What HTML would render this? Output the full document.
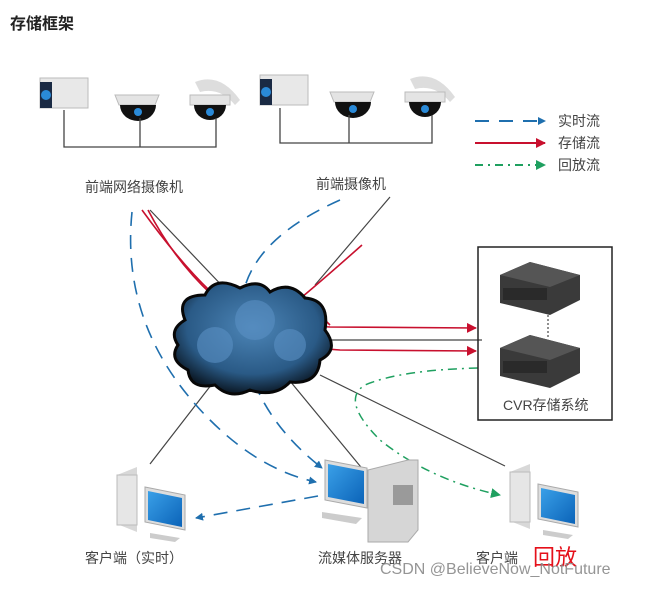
<!DOCTYPE html>
<html><head><meta charset="utf-8"><style>
body{margin:0;background:#fff;width:660px;height:586px;overflow:hidden;font-family:"Liberation Sans","Noto Sans CJK SC",sans-serif}
</style></head><body>
<svg width="660" height="586" viewBox="0 0 660 586" xmlns="http://www.w3.org/2000/svg">
<defs>
<marker id="ab" markerWidth="8" markerHeight="8" refX="7" refY="4" orient="auto" markerUnits="userSpaceOnUse"><path d="M0,0L8,4L0,8Z" fill="#1f6fae"/></marker>
<marker id="ar" markerWidth="10" markerHeight="10" refX="9" refY="5" orient="auto" markerUnits="userSpaceOnUse"><path d="M0,0L10,5L0,10Z" fill="#c8102e"/></marker>
<marker id="ag" markerWidth="10" markerHeight="10" refX="9" refY="5" orient="auto" markerUnits="userSpaceOnUse"><path d="M0,0L10,5L0,10Z" fill="#1fa060"/></marker>
<radialGradient id="cl" cx="50%" cy="40%" r="60%"><stop offset="0" stop-color="#4d86b8"/><stop offset="0.7" stop-color="#2a5a86"/><stop offset="1" stop-color="#0c1a28"/></radialGradient>
<linearGradient id="scr" x1="0" y1="0" x2="1" y2="1"><stop offset="0" stop-color="#3aa0e8"/><stop offset="1" stop-color="#0b63b8"/></linearGradient>
</defs>
<text x="10" y="29" font-size="16" font-weight="bold" fill="#222">存储框架</text>

<!-- cameras -->
<g id="box1">
<rect x="40" y="78" width="48" height="30" fill="#e8e8e8" stroke="#bbb"/>
<rect x="40" y="82" width="12" height="26" fill="#1a2a44"/><circle cx="46" cy="95" r="5" fill="#2a8ad8"/>
</g>
<g><path d="M115,95 h44 l-4,10 h-36z" fill="#e4e4e4" stroke="#bbb"/><path d="M120,105 a18,16 0 0 0 36,0z" fill="#111"/><circle cx="138" cy="112" r="4" fill="#2a8ad8"/></g>
<g><path d="M195,82 q25,-10 45,18 l-5,5 q-15,-18 -35,-13z" fill="#ddd"/><path d="M190,95 h40 v10 h-40z" fill="#e4e4e4" stroke="#bbb"/><path d="M194,105 a16,15 0 0 0 32,0z" fill="#111"/><circle cx="210" cy="112" r="4" fill="#2a8ad8"/></g>
<g transform="translate(220,-3)">
<rect x="40" y="78" width="48" height="30" fill="#e8e8e8" stroke="#bbb"/>
<rect x="40" y="82" width="12" height="26" fill="#1a2a44"/><circle cx="46" cy="95" r="5" fill="#2a8ad8"/>
</g>
<g transform="translate(215,-3)"><path d="M115,95 h44 l-4,10 h-36z" fill="#e4e4e4" stroke="#bbb"/><path d="M120,105 a18,16 0 0 0 36,0z" fill="#111"/><circle cx="138" cy="112" r="4" fill="#2a8ad8"/></g>
<g transform="translate(215,-3)"><path d="M195,82 q25,-10 45,18 l-5,5 q-15,-18 -35,-13z" fill="#ddd"/><path d="M190,95 h40 v10 h-40z" fill="#e4e4e4" stroke="#bbb"/><path d="M194,105 a16,15 0 0 0 32,0z" fill="#111"/><circle cx="210" cy="112" r="4" fill="#2a8ad8"/></g>

<g stroke="#444" stroke-width="1.3" fill="none">
<path d="M64,110V147H216V118M140,118V147"/>
<path d="M280,108V143H432V115M349,115V143"/>
</g>

<!-- legend -->
<line x1="475" y1="121" x2="545" y2="121" stroke="#1f6fae" stroke-width="2" stroke-dasharray="14,10" marker-end="url(#ab)"/>
<line x1="475" y1="143" x2="545" y2="143" stroke="#c8102e" stroke-width="2" marker-end="url(#ar)"/>
<line x1="475" y1="165" x2="545" y2="165" stroke="#1fa060" stroke-width="2" stroke-dasharray="8,5,2,5" marker-end="url(#ag)"/>
<g font-size="14" fill="#444"><text x="558" y="126">实时流</text><text x="558" y="148">存储流</text><text x="558" y="170">回放流</text></g>

<g font-size="14" fill="#444"><text x="85" y="192">前端网络摄像机</text><text x="316" y="189">前端摄像机</text></g>

<!-- connectors behind cloud -->
<g fill="none" stroke-width="1.2">
<path d="M150,210 L228,292" stroke="#444"/>
<path d="M390,197 L315,285" stroke="#444"/>
<path d="M310,340 H482" stroke="#444"/>
<path d="M215,380 L150,464" stroke="#444"/>
<path d="M285,375 L365,472" stroke="#444"/>
<path d="M320,375 L505,466" stroke="#444"/>
</g>
<g fill="none" stroke="#c8102e" stroke-width="1.6">
<path d="M142,210 Q200,290 240,315 Q290,325 330,327 L476,328" marker-end="url(#ar)"/>
<path d="M148,210 Q190,290 260,330 Q300,348 340,350 L476,351" marker-end="url(#ar)"/>
<path d="M362,245 Q300,300 283,312 Q290,285 330,325"/>
</g>
<g fill="none" stroke="#1f6fae" stroke-width="1.6" stroke-dasharray="14,9">
<path d="M132,212 Q120,330 210,420 Q260,470 316,482" marker-end="url(#ab)"/>
<path d="M340,200 Q250,240 242,300 Q235,400 322,468" marker-end="url(#ab)"/>
<path d="M318,496 L196,518" marker-end="url(#ab)"/>
</g>
<path d="M478,368 Q400,370 365,385 Q340,400 380,440 Q430,480 500,495" fill="none" stroke="#1fa060" stroke-width="1.5" stroke-dasharray="9,5,2,5" marker-end="url(#ag)"/>

<!-- cloud -->
<g stroke="#080808" stroke-width="3" fill="url(#cl)">
<path d="M185,320 Q175,295 205,295 Q215,275 240,288 Q260,278 270,292 Q290,280 305,298 Q330,300 325,330 Q340,350 320,360 Q318,385 290,382 Q275,398 250,390 Q230,400 215,385 Q190,390 188,370 Q168,360 178,345 Q168,330 185,320Z"/>
</g>
<g fill="#5a90c4" opacity="0.6"><circle cx="215" cy="345" r="18"/><circle cx="255" cy="320" r="20"/><circle cx="290" cy="345" r="16"/></g>

<!-- CVR -->
<rect x="478" y="247" width="134" height="173" fill="none" stroke="#222" stroke-width="1.5"/>
<g><path d="M500,275 l30,-13 l50,13 v25 l-30,15 l-50,-12z" fill="#3a3a3a"/><path d="M500,275 l50,12 l30,-12 l-50,-13z" fill="#555"/><rect x="503" y="288" width="44" height="12" fill="#2a2a2a"/></g>
<line x1="548" y1="315" x2="548" y2="337" stroke="#222" stroke-dasharray="2,2"/>
<g transform="translate(0,73)"><path d="M500,275 l30,-13 l50,13 v25 l-30,15 l-50,-12z" fill="#3a3a3a"/><path d="M500,275 l50,12 l30,-12 l-50,-13z" fill="#555"/><rect x="503" y="288" width="44" height="12" fill="#2a2a2a"/></g>
<text x="503" y="410" font-size="14" fill="#444">CVR存储系统</text>

<!-- PCs -->
<g id="pc">
<path d="M117,475 l20,-8 v65 l-20,-8z" fill="#d8d8d8"/><rect x="117" y="475" width="20" height="50" fill="#e6e6e6" stroke="#bbb"/>
<path d="M145,487 l40,8 v35 l-40,-8z" fill="#ddd" stroke="#aaa"/><path d="M148,491 l34,7 v29 l-34,-7z" fill="url(#scr)"/>
<path d="M150,533 l30,5 l-5,4 l-25,-4z" fill="#ccc"/>
</g>
<g transform="translate(393,-3)">
<path d="M117,475 l20,-8 v65 l-20,-8z" fill="#d8d8d8"/><rect x="117" y="475" width="20" height="50" fill="#e6e6e6" stroke="#bbb"/>
<path d="M145,487 l40,8 v35 l-40,-8z" fill="#ddd" stroke="#aaa"/><path d="M148,491 l34,7 v29 l-34,-7z" fill="url(#scr)"/>
<path d="M150,533 l30,5 l-5,4 l-25,-4z" fill="#ccc"/>
</g>
<!-- server -->
<g>
<path d="M368,470 l40,-10 h10 v70 l-10,12 h-40z" fill="#d6d6d6" stroke="#aaa"/>
<rect x="393" y="485" width="20" height="20" fill="#9a9a9a"/>
<path d="M325,460 l42,8 v40 l-42,-8z" fill="#ddd" stroke="#aaa"/><path d="M328,464 l36,7 v33 l-36,-7z" fill="url(#scr)"/>
<path d="M322,512 l40,6 l-6,6 l-34,-6z" fill="#ccc"/>
</g>

<g font-size="14" fill="#444"><text x="85" y="563">客户端（实时）</text><text x="318" y="563">流媒体服务器</text><text x="476" y="563">客户端</text></g>
<text x="533" y="565" font-size="22" fill="#e5101a">回放</text>
<text x="380" y="574" font-size="16" fill="#8a8a8a" opacity="0.9">CSDN @BelieveNow_NotFuture</text>
</svg>
</body></html>
